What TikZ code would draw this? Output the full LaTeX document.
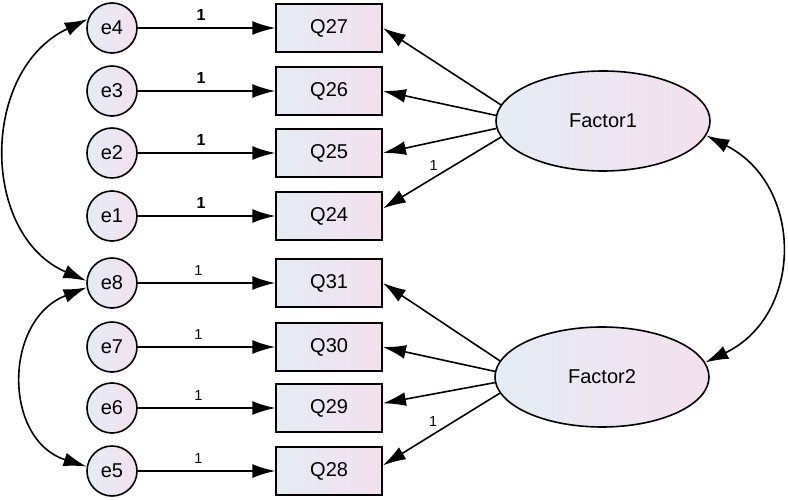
\documentclass[tikz,border=0pt]{standalone}
\usepackage{fontspec}
\setmainfont{Liberation Sans}
\usetikzlibrary{positioning,shapes.geometric,arrows.meta}
\definecolor{lblue}{RGB}{228,236,244}
\definecolor{lpink}{RGB}{244,224,238}

\begin{document}
\begin{tikzpicture}[x=1pt, y=-1pt, line width=1.6pt,
    err/.style={circle, draw, minimum size=50pt, inner sep=0pt, left color=lblue, right color=lpink, font=\fontsize{20}{23}\selectfont},
    item/.style={rectangle, draw, minimum width=106pt, minimum height=48pt, left color=lblue, right color=lpink, font=\fontsize{20}{23}\selectfont},
    fac/.style={ellipse, draw, minimum width=214pt, minimum height=100pt, left color=lblue, right color=lpink, font=\fontsize{20}{23}\selectfont},
    arr/.style={-{Latex[length=23pt,width=14pt]}},
    biarr/.style={{Latex[length=23pt,width=14pt]}-{Latex[length=23pt,width=14pt]}},
    wt/.style={font=\fontsize{14.5}{17}\selectfont},
    wtb/.style={font=\fontsize{16}{19}\selectfont\bfseries}]
    \useasboundingbox (0,0) rectangle (788,500);

    % Error terms
    \node[err] (e4) at (112,28) {e4};
    \node[err] (e3) at (112,91) {e3};
    \node[err] (e2) at (112,153) {e2};
    \node[err] (e1) at (112,216) {e1};
    \node[err] (e8) at (112,283) {e8};
    \node[err] (e7) at (112,347) {e7};
    \node[err] (e6) at (112,408) {e6};
    \node[err] (e5) at (112,471) {e5};

    % Observed items
    \node[item, right=137.5pt of e4] (q27) {Q27};
    \node[item, right=137.5pt of e3] (q26) {Q26};
    \node[item, right=137.5pt of e2] (q25) {Q25};
    \node[item, right=137.5pt of e1] (q24) {Q24};
    \node[item, right=137.5pt of e8] (q31) {Q31};
    \node[item, right=137.5pt of e7] (q30) {Q30};
    \node[item, right=137.5pt of e6] (q29) {Q29};
    \node[item, right=137.5pt of e5] (q28) {Q28};

    % Latent factors
    \node[fac] (f1) at (603,121) {Factor1};
    \node[fac] (f2) at (602,377) {Factor2};

    % Error paths
    \draw[arr] (e4) -- node[wtb, pos=0.46, above=3pt] {1} (q27);
    \draw[arr] (e3) -- node[wtb, pos=0.46, above=3pt] {1} (q26);
    \draw[arr] (e2) -- node[wtb, pos=0.46, above=3pt] {1} (q25);
    \draw[arr] (e1) -- node[wtb, pos=0.46, above=3pt] {1} (q24);
    \draw[arr] (e8) -- node[wt, pos=0.44, above=3pt] {1} (q31);
    \draw[arr] (e7) -- node[wt, pos=0.44, above=3pt] {1} (q30);
    \draw[arr] (e6) -- node[wt, pos=0.44, above=3pt] {1} (q29);
    \draw[arr] (e5) -- node[wt, pos=0.44, above=3pt] {1} (q28);

    % Loadings
    \draw[arr] (f1.171) -- (q27.east);
    \draw[arr] (f1.177) -- (q26.east);
    \draw[arr] (f1.184) -- (q25.east);
    \draw[arr] (f1.189) -- node[wt, pos=0.57, above=3pt] {1} (q24.8);
    \draw[arr] (f2.171) -- (q31.east);
    \draw[arr] (f2.177) -- (q30.east);
    \draw[arr] (f2.183) -- (q29.5);
    \draw[arr] (f2.189) -- node[wt, pos=0.57, above=4pt] {1} (q28.6);

    % Covariances
    \draw[biarr] (e4.160) .. controls (-20,70) and (-20,235) .. (e8.175);
    \draw[biarr] (e8.190) .. controls (3,320) and (3,440) .. (e5.170);
    \draw[biarr] (f1.-8) .. controls (804,185) and (804,315) .. (f2.8);
\end{tikzpicture}
\end{document}
